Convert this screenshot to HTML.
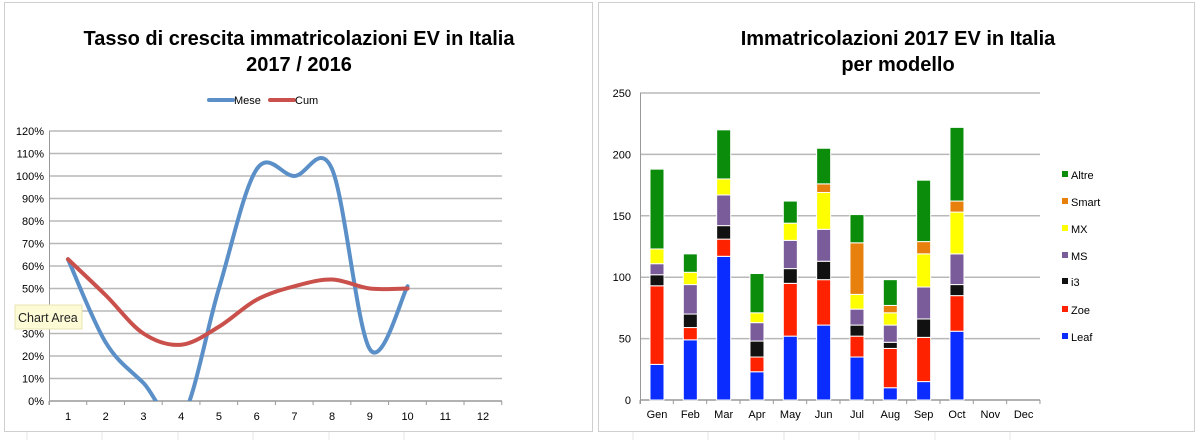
<!DOCTYPE html>
<html><head><meta charset="utf-8"><style>
html,body{margin:0;padding:0;background:#fff;}
svg{display:block;font-family:"Liberation Sans",sans-serif;}
</style></head><body>
<svg id="s" width="1200" height="440" xmlns="http://www.w3.org/2000/svg">
<defs><clipPath id="cl"><rect x="49" y="120" width="455" height="281"/></clipPath></defs>
<rect x="0" y="0" width="1200" height="440" fill="#fff"/>
<g stroke="#e4e4e4" stroke-width="1">
<line x1="27" y1="432" x2="27" y2="440"/><line x1="102" y1="432" x2="102" y2="440"/><line x1="178" y1="432" x2="178" y2="440"/><line x1="253" y1="432" x2="253" y2="440"/><line x1="329" y1="432" x2="329" y2="440"/><line x1="404" y1="432" x2="404" y2="440"/><line x1="633" y1="432" x2="633" y2="440"/><line x1="708" y1="432" x2="708" y2="440"/><line x1="784" y1="432" x2="784" y2="440"/><line x1="859" y1="432" x2="859" y2="440"/><line x1="935" y1="432" x2="935" y2="440"/><line x1="1010" y1="432" x2="1010" y2="440"/>
</g>
<rect x="4.5" y="2.5" width="588" height="429" fill="#fff" stroke="#cfcfcf"/>
<rect x="598.5" y="2.5" width="596" height="429" fill="#fff" stroke="#cfcfcf"/>
<g font-weight="bold" font-size="20" text-anchor="middle" fill="#000">
<text x="299" y="45">Tasso di crescita immatricolazioni EV in Italia</text>
<text x="299" y="71">2017 / 2016</text>
<text x="898" y="45">Immatricolazioni 2017 EV in Italia</text>
<text x="898" y="71">per modello</text>
</g>
<g id="L"></g>
<g id="R"></g>
</svg>
<script>
var NS="http://www.w3.org/2000/svg";
function el(p,t,a,txt){var e=document.createElementNS(NS,t);for(var k in a)e.setAttribute(k,a[k]);if(txt!==undefined)e.textContent=txt;p.appendChild(e);return e;}
var L=document.getElementById('L'),R=document.getElementById('R');
function ly(v){return 401-v*2.25;}
function lx(i){return 68+(i-1)*37.73;}
for(var v=10;v<=120;v+=10){el(L,'line',{x1:49,x2:502,y1:ly(v),y2:ly(v),stroke:'#b8b8b8','stroke-width':1.5});}
for(v=0;v<=120;v+=10){el(L,'text',{x:44,y:ly(v)+4,'font-size':11,'text-anchor':'end'},v+'%');}
el(L,'line',{x1:49.5,x2:49.5,y1:131,y2:405,stroke:'#999'});
el(L,'line',{x1:49,x2:502,y1:401,y2:401,stroke:'#999','stroke-width':1.5});
for(var i=0;i<=12;i++){var x=49+i*37.73;el(L,'line',{x1:x,x2:x,y1:401,y2:405,stroke:'#999'});}
for(i=1;i<=12;i++){el(L,'text',{x:lx(i),y:420,'font-size':11,'text-anchor':'middle'},i);}
function smooth(pts){var d='M'+pts[0][0]+','+pts[0][1];for(var k=0;k<pts.length-1;k++){var p0=pts[k-1]||pts[k],p1=pts[k],p2=pts[k+1],p3=pts[k+2]||p2;
var c1x=p1[0]+(p2[0]-p0[0])/6,c1y=p1[1]+(p2[1]-p0[1])/6,c2x=p2[0]-(p3[0]-p1[0])/6,c2y=p2[1]-(p3[1]-p1[1])/6;
d+=' C'+c1x+','+c1y+' '+c2x+','+c2y+' '+p2[0]+','+p2[1];}return d;}
var mese=[63,26,8,-8,50,103,100,103,23,51],cum=[63,47,30,25,33,45,51,54,50,50];
el(L,'path',{d:smooth(mese.map(function(v,i){return[lx(i+1),ly(v)]})),fill:'none',stroke:'#5b8fc7','stroke-width':4,'clip-path':'url(#cl)','stroke-linecap':'round'});
el(L,'path',{d:smooth(cum.map(function(v,i){return[lx(i+1),ly(v)]})),fill:'none',stroke:'#c9504b','stroke-width':4,'stroke-linecap':'round'});
el(L,'line',{x1:209,x2:233,y1:100,y2:100,stroke:'#5b8fc7','stroke-width':4,'stroke-linecap':'round'});
el(L,'text',{x:234,y:104,'font-size':11},'Mese');
el(L,'line',{x1:270,x2:294,y1:100,y2:100,stroke:'#c9504b','stroke-width':4,'stroke-linecap':'round'});
el(L,'text',{x:295,y:104,'font-size':11},'Cum');
el(L,'rect',{x:15,y:305,width:67,height:24,fill:'#fcfbd6',stroke:'#e8e6b0'});
el(L,'text',{x:18,y:322,'font-size':12.5,fill:'#222'},'Chart Area');
function ry(v){return 400-v*1.228;}
for(v=50;v<=250;v+=50){el(R,'line',{x1:640,x2:1040,y1:ry(v),y2:ry(v),stroke:'#b8b8b8','stroke-width':1.5});}
for(v=0;v<=250;v+=50){el(R,'text',{x:631,y:ry(v)+4,'font-size':11,'text-anchor':'end'},v);}
el(R,'line',{x1:640.5,x2:640.5,y1:93,y2:404,stroke:'#999'});
el(R,'line',{x1:640,x2:1040,y1:400,y2:400,stroke:'#999','stroke-width':1.5});
for(i=0;i<=12;i++){x=640+i*33.33;el(R,'line',{x1:x,x2:x,y1:400,y2:404,stroke:'#999'});}
var mon=['Gen','Feb','Mar','Apr','May','Jun','Jul','Aug','Sep','Oct','Nov','Dec'];
for(i=0;i<12;i++){el(R,'text',{x:657+i*33.33,y:418,'font-size':11,'text-anchor':'middle'},mon[i]);}
var cols=['#0a2cff','#ff2200','#111111','#7a5c9a','#ffff00','#e8800e','#0b8c0b'];
var tops=[[29,93,102,111,123,123,188],[49,59,70,94,104,104,119],[117,131,142,167,180,180,220],[23,35,48,63,71,71,103],[52,95,107,130,144,144,162],[61,98,113,139,169,176,205],[35,52,61,74,86,128,151],[10,42,47,61,71,77,98],[15,51,66,92,119,129,179],[56,85,94,119,153,162,222]];
for(i=0;i<tops.length;i++){var prev=0,cx=657+i*33.33;for(var k=0;k<7;k++){var t=tops[i][k];if(t>prev){el(R,'rect',{x:cx-7,y:ry(t),width:14,height:ry(prev)-ry(t),fill:cols[k],stroke:'#fff','stroke-width':1});}prev=Math.max(prev,t);}}
var names=['Altre','Smart','MX','MS','i3','Zoe','Leaf'],ly2=[175,202,229,256,282,310,337];
for(k=0;k<7;k++){el(R,'rect',{x:1062,y:ly2[k]-4,width:6,height:6,fill:cols[6-k]});el(R,'text',{x:1071,y:ly2[k]+4,'font-size':11},names[k]);}
</script>
</body></html>
